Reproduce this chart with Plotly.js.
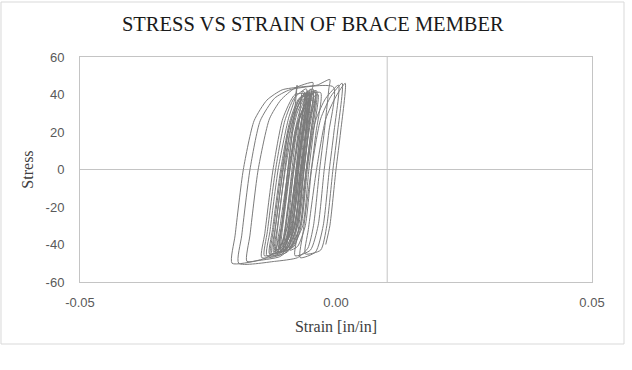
<!DOCTYPE html>
<html>
<head>
<meta charset="utf-8">
<script src="https://cdn.plot.ly/plotly-3.0.1.min.js"></script>
<style>html,body{margin:0;padding:0;background:#fff;}#chart{width:632px;height:370px;}</style>
</head>
<body>
<div id="chart"></div>
<script>
// Hysteresis record (strain in/in, stress)
var strain = [
  -0.0065, -0.0058, -0.0055,
  -0.0064, -0.0073, -0.0085, -0.0094, -0.0100, -0.0095, -0.0082, -0.0070, -0.0062,
  -0.0050, -0.0059, -0.0068, -0.0080, -0.0095, -0.0110, -0.0104, -0.0090, -0.0076, -0.0062,
  -0.0045, -0.0054, -0.0063, -0.0074, -0.0085, -0.0095, -0.0090, -0.0075, -0.0062, -0.0052,
  -0.0050, -0.0059, -0.0068, -0.0080, -0.0095, -0.0112, -0.0106, -0.0091, -0.0075, -0.0060,
  -0.0060, -0.0069, -0.0078, -0.0090, -0.0104, -0.0120, -0.0114, -0.0099, -0.0083, -0.0070,
  -0.0040, -0.0049, -0.0058, -0.0070, -0.0088, -0.0105, -0.0099, -0.0084, -0.0068, -0.0053,
  -0.0055, -0.0064, -0.0073, -0.0085, -0.0105, -0.0130, -0.0124, -0.0108, -0.0090, -0.0072,
  -0.0038, -0.0047, -0.0056, -0.0068, -0.0082, -0.0098, -0.0092, -0.0077, -0.0062, -0.0050,
  -0.0035, -0.0044, -0.0053, -0.0065, -0.0088, -0.0115, -0.0109, -0.0093, -0.0075, -0.0055,
  -0.0065, -0.0074, -0.0083, -0.0095, -0.0115, -0.0140, -0.0134, -0.0118, -0.0100, -0.0082,
  -0.0058, -0.0067, -0.0076, -0.0088, -0.0105, -0.0128, -0.0122, -0.0106, -0.0088, -0.0070,
  -0.0045, -0.0054, -0.0063, -0.0075, -0.0098, -0.0125, -0.0119, -0.0103, -0.0085, -0.0063,
  -0.0030, -0.0039, -0.0048, -0.0060, -0.0075, -0.0090, -0.0084, -0.0069, -0.0054, -0.0042,
  -0.0050, -0.0059, -0.0068, -0.0080, -0.0105, -0.0145, -0.0139, -0.0123, -0.0104, -0.0080,
  -0.0052, -0.0058, -0.0064, -0.0070, -0.0078, -0.0088, -0.0100, -0.0110, -0.0108, -0.0101, -0.0094, -0.0086, -0.0076, -0.0064,
  -0.0048, -0.0054, -0.0060, -0.0066, -0.0074, -0.0085, -0.0098, -0.0108, -0.0106, -0.0098, -0.0090, -0.0082, -0.0071, -0.0060,
  -0.0055, -0.0061, -0.0068, -0.0074, -0.0082, -0.0093, -0.0106, -0.0118, -0.0116, -0.0108, -0.0100, -0.0091, -0.0079, -0.0066,
  -0.0060, -0.0066, -0.0072, -0.0078, -0.0086, -0.0097, -0.0110, -0.0122, -0.0120, -0.0112, -0.0104, -0.0095, -0.0083, -0.0070,
  -0.0044, -0.0050, -0.0056, -0.0062, -0.0070, -0.0080, -0.0092, -0.0102, -0.0100, -0.0093, -0.0086, -0.0078, -0.0068, -0.0056,
  -0.0040, -0.0049, -0.0058, -0.0070, -0.0095, -0.0135, -0.0129, -0.0113, -0.0093, -0.0080,
  -0.0076, -0.0085, -0.0094, -0.0106, -0.0120, -0.0140, -0.0174, -0.0168, -0.0152, -0.0130, -0.0108, -0.0080,
  -0.0045, -0.0047, -0.0056, -0.0065, -0.0077, -0.0090, -0.0110, -0.0150, -0.0203, -0.0197, -0.0181, -0.0160, -0.0135, -0.0105,
  -0.0070, -0.0037, -0.0012, -0.0014, -0.0023, -0.0032, -0.0044, -0.0055, -0.0075, -0.0120, -0.0190, -0.0184, -0.0168, -0.0148, -0.0120, -0.0090,
  -0.0005, -0.0014, -0.0023, -0.0035, -0.0050, -0.0080, -0.0074, -0.0058, -0.0040, -0.0020,
  0.0005, -0.0004, -0.0013, -0.0025, -0.0040, -0.0070, -0.0064, -0.0048, -0.0030, -0.0010,
  0.0012, 0.0003, -0.0006, -0.0018, -0.0030, -0.0060, -0.0054, -0.0038, -0.0020, 0.0000,
  0.0018, 0.0009, 0.0000, -0.0012, -0.0020
];
var stress = [
  0, 25, 36,
  20, 0, -28, -36, -38, -25, 0, 22, 33,
  38, 20, 0, -28, -38, -40, -28, 0, 22, 34,
  37, 18, 0, -28, -40, -42, -28, 0, 22, 33,
  40, 20, 0, -30, -42, -44, -30, 0, 25, 36,
  40, 20, 0, -28, -41, -43, -30, 0, 25, 36,
  41, 20, 0, -30, -42, -44, -30, 0, 25, 37,
  42, 20, 0, -30, -43, -45, -32, 0, 26, 38,
  42, 20, 0, -30, -41, -43, -30, 0, 25, 37,
  40, 20, 0, -30, -42, -44, -30, 0, 25, 37,
  42, 20, 0, -30, -44, -46, -33, 0, 26, 38,
  43, 20, 0, -30, -44, -46, -32, 0, 26, 38,
  43, 20, 0, -30, -43, -45, -32, 0, 26, 39,
  41, 20, 0, -30, -41, -43, -30, 0, 25, 36,
  43, 20, 0, -30, -45, -47, -34, 0, 27, 40,
  40, 30, 15, 0, -18, -33, -41, -43, -35, -18, 0, 18, 30, 37,
  41, 30, 15, 0, -18, -34, -42, -44, -35, -18, 0, 18, 31, 38,
  42, 30, 15, 0, -18, -34, -43, -45, -36, -18, 0, 18, 31, 39,
  41, 30, 15, 0, -18, -33, -42, -44, -35, -18, 0, 18, 30, 38,
  40, 30, 15, 0, -18, -33, -41, -43, -34, -18, 0, 18, 30, 37,
  42, 20, 0, -30, -44, -46, -33, 0, 27, 38,
  45, 20, 0, -30, -44, -47.5, -49, -35, 0, 27, 37, 43.5,
  46.4, 42, 20, 0, -30, -42, -46.5, -48.5, -50, -35, 0, 26, 37, 42.5,
  44, 45, 48, 43, 20, 0, -30, -42, -47, -49, -50, -35, 0, 26, 38, 42.5,
  44, 20, 0, -30, -43, -46, -33, 0, 26, 38,
  45, 20, 0, -30, -44, -47, -33, 0, 27, 39,
  46, 20, 0, -30, -43, -45, -32, 0, 27, 39,
  46, 20, 0, -30, -40
];
var xTickVals = [-0.05, 0, 0.05];
var xTickText = ["-0.05", "0.00", "0.05"];
var yTickVals = [-60, -40, -20, 0, 20, 40, 60];
var yTickText = ["-60", "-40", "-20", "0", "20", "40", "60"];
var crossAt = [0.01];

var trace = {
  x: strain, y: stress, type: 'scatter', mode: 'lines',
  line: {color: '#7b7b7b', width: 1, shape: 'spline', smoothing: 0.6}, hoverinfo: 'skip'
};

var layout = {
  width: 632, height: 370,
  margin: {l: 80, r: 40, t: 57, b: 88},
  paper_bgcolor: '#ffffff', plot_bgcolor: '#ffffff',
  showlegend: false,
  title: {
    text: 'STRESS VS STRAIN OF BRACE MEMBER',
    font: {family: 'Liberation Serif, Times New Roman, serif', size: 20.5, color: '#1a1a1a'},
    x: 0.495, xanchor: 'center', y: 0.935, yanchor: 'middle', yref: 'container'
  },
  xaxis: {
    range: [-0.05, 0.05], tickvals: xTickVals, ticktext: xTickText,
    showgrid: false, zeroline: false, showline: true, mirror: true,
    linecolor: '#c4c4c4', linewidth: 1, ticks: '',
    ticklabelstandoff: 8,
    tickfont: {family: 'Liberation Sans, Arial, sans-serif', size: 13, color: '#595959'},
    title: {text: 'Strain [in/in]', standoff: 12,
      font: {family: 'Liberation Serif, Times New Roman, serif', size: 16, color: '#404040'}}
  },
  yaxis: {
    range: [-60, 60], tickvals: yTickVals, ticktext: yTickText,
    showgrid: false, zeroline: true, zerolinecolor: '#c4c4c4', zerolinewidth: 1,
    showline: true, mirror: true, linecolor: '#c4c4c4', linewidth: 1, ticks: '',
    ticklabelstandoff: 12,
    tickfont: {family: 'Liberation Sans, Arial, sans-serif', size: 13, color: '#595959'},
    title: {text: 'Stress', standoff: 8,
      font: {family: 'Liberation Serif, Times New Roman, serif', size: 16, color: '#404040'}}
  },
  shapes: [
    {type: 'line', xref: 'x', yref: 'paper', x0: crossAt[0], x1: crossAt[0], y0: 0, y1: 1,
     line: {color: '#c4c4c4', width: 1}, layer: 'below'},
    {type: 'rect', xref: 'paper', yref: 'paper', x0: -0.1543, x1: 1.0625, y0: -0.2756, y1: 1.2444,
     line: {color: '#d9d9d9', width: 1}, fillcolor: 'rgba(0,0,0,0)', layer: 'below'}
  ]
};

Plotly.newPlot('chart', [trace], layout, {staticPlot: true, displayModeBar: false});
</script>
</body>
</html>
